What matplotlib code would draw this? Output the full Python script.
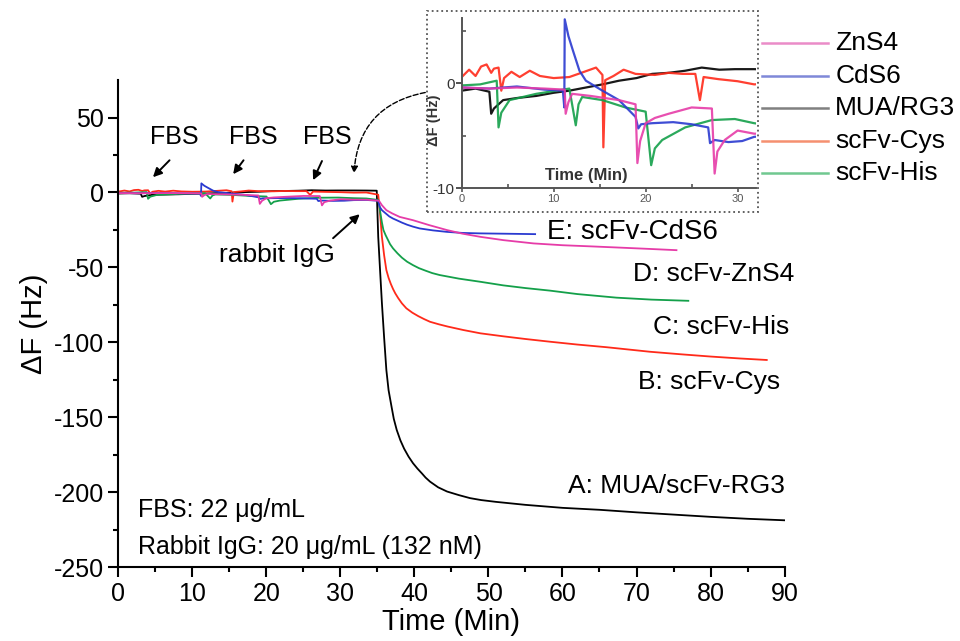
import numpy as np
import matplotlib
matplotlib.use("Agg")
import matplotlib.pyplot as plt
from matplotlib.lines import Line2D
from matplotlib.patches import Rectangle

plt.rcParams['font.family'] = ['Liberation Sans', 'DejaVu Sans']
plt.rcParams['axes.unicode_minus'] = False

## data: time (min), delta F (Hz)
t_mua = [0, 1.5, 3.0, 3.2, 3.5, 4.5, 6, 8.1, 10, 11.7, 13.5, 15.3, 17.1, 19, 20.7, 22.5,
         24.3, 26.1, 28, 29.7, 31.8, 33.5, 34.9, 35.1, 35.35, 35.6, 35.9, 36.2, 36.5, 36.9,
         37.2, 37.6, 38.1, 38.6, 39.2, 39.8, 40.4, 41, 41.5, 42.1, 43.2, 44.4, 46, 47.5, 49,
         51, 55, 60, 65, 70, 75, 80, 85, 90]
f_mua = [-0.7, -0.5, -0.8, -2.9, -2.4, -1.6, -1.4, -1.2, -0.9, -0.7, -0.4, -0.1, 0.25, 0.5,
         0.9, 1.0, 1.2, 1.5, 1.3, 1.35, 1.35, 1.3, 1.2, -29.6, -52, -74, -97, -118.5, -132,
         -143, -151, -158.5, -165.5, -171, -176.3, -180.7, -184.3, -187.5, -190.3, -193,
         -196.8, -199.6, -202, -204, -205.3, -206.5, -208.5, -210.5, -211.8, -213.5, -215,
         -216.5, -217.8, -218.8]

t_cys = [0, 0.8, 1.5, 2.1, 2.7, 3.2, 3.5, 4.0, 4.3, 4.6, 5.4, 6.3, 7.4, 8.5, 10, 11.7, 13,
         14.6, 15.3, 15.4, 15.6, 16.5, 17.6, 18.9, 21, 22.5, 24, 25.4, 25.9, 26.3, 27.9, 30,
         31.8, 33.5, 35.1, 35.35, 35.6, 35.9, 36.2, 36.5, 36.8, 37.1, 37.4, 37.8, 38.3, 38.9,
         39.7, 40.5, 41.3, 42.1, 43.3, 44.5, 46.6, 48.9, 52, 55, 58.3, 62, 66, 71.8, 76, 80,
         84, 87.6]
f_cys = [0.6, 1.3, 0.7, 1.6, 1.8, 1.0, 1.4, 1.5, -0.7, 0.5, 1.1, 0.6, 1.2, 0.7, 0.5, 0.6,
         1.0, 1.5, 0.8, -6.1, 0.3, 0.7, 1.3, 0.9, 0.8, 1.0, 0.9, 0.9, -1.6, 0.6, 0.4, 0.2,
         -0.1, 0.0, -1.5, -14, -29.6, -42, -51.8, -57, -61, -64.4, -67.3, -70.5, -74, -77.3,
         -80.2, -82.5, -84.5, -86.3, -88, -89.5, -91.8, -94, -96, -97.8, -99.6, -101.5,
         -103.3, -106.3, -108, -109.5, -110.8, -111.8]

t_his = [0, 2, 3.8, 4.0, 4.3, 5.2, 8.1, 11.7, 12.4, 12.7, 13.1, 15.3, 17.8, 20.0, 20.6,
         21.0, 21.8, 24.3, 27.2, 29.7, 31.8, 33.5, 35.1, 35.25, 35.4, 35.6, 35.8, 36.1, 36.4,
         36.7, 37.1, 37.7, 38.3, 39, 39.8, 40.6, 41.5, 42.4, 43.4, 46, 48.9, 52, 55, 58.3,
         62, 67.3, 72, 77.0]
f_his = [-0.2, -0.1, 0.25, -4.2, -2.8, -1.6, -1.0, -0.5, -4.0, -2.0, -1.3, -1.6, -2.3, -2.7,
         -7.8, -6.2, -5.4, -4.2, -3.5, -3.4, -3.8, -4.0, -5.0, -9, -14, -20, -25, -28.5,
         -31.5, -34.5, -37.3, -40.6, -43.5, -46.2, -48.5, -50.5, -52.2, -53.8, -55.1, -57.5,
         -59.6, -62, -63.8, -65.5, -67.8, -70.2, -71.5, -72.3]

t_cds = [0, 3, 6, 9, 11.0, 11.15, 11.2, 11.6, 12.1, 12.8, 13.5, 15.3, 17.1, 18.9, 19.2,
         19.5, 20.7, 23, 25, 26.8, 27.0, 27.5, 29, 30.5, 31.8, 33.5, 35.1, 35.3, 35.6, 36,
         36.6, 37.1, 37.6, 38.3, 39, 39.8, 40.7, 42.5, 44.4, 46.5, 48.9, 52, 56.3]
f_cds = [-0.4, -0.5, -0.3, -0.6, -0.7, -2.3, 6.1, 4.5, 3.1, 1.2, 0.25, -0.7, -1.6, -3.2,
         -4.3, -3.9, -3.8, -3.7, -3.9, -4.2, -5.7, -5.4, -5.6, -5.5, -5.1, -5.0, -5.5, -9.6,
         -11.8, -13.5, -16, -17.4, -18.5, -20.1, -21.5, -22.8, -24, -25.3, -26.3, -27, -27.3,
         -27.5, -27.8]

t_zns = [0, 3, 6, 9, 11.2, 11.3, 11.6, 12.0, 14, 17.1, 18.9, 19.1, 19.4, 20.0, 21, 22.5,
         25, 27.2, 27.5, 27.8, 28.6, 30, 31.8, 33.5, 35.2, 35.6, 36.2, 37, 38, 39.8, 42,
         44.4, 46.5, 48.9, 52, 56.1, 60, 64, 67.3, 71, 75.4]
f_zns = [-0.4, -0.5, -0.4, -0.5, -0.6, -2.9, -1.8, -1.0, -1.2, -1.6, -2.0, -7.6, -5.5, -3.8,
         -3.3, -2.9, -2.3, -2.4, -8.6, -6.5, -5.4, -4.5, -4.8, -4.8, -5.5, -8.5, -11.8, -14,
         -16.3, -18.5, -21.8, -25.1, -27.5, -29.6, -31.8, -34, -35.2, -36, -36.7, -37.5, -38.5]

curve_labels = ["A: MUA/scFv-RG3", "B: scFv-Cys", "C: scFv-His", "E: scFv-CdS6", "D: scFv-ZnS4"]
legend_names = ["ZnS4", "CdS6", "MUA/RG3", "scFv-Cys", "scFv-His"]

series = [(t_mua, f_mua, 'black'), (t_cys, f_cys, '#ff2a1a'), (t_his, f_his, '#14a04a'),
          (t_cds, f_cds, '#2a3ad0'), (t_zns, f_zns, '#e63ca8')]

fig = plt.figure(figsize=(9.6, 6.41), dpi=100)
ax = fig.add_axes([0.1234, 0.1154, 0.6938, 0.7596])

for t, f, c in series:
    ax.plot(t, f, color=c, lw=1.3)

ax.set_xlim(0, 90)
ax.set_ylim(-250, 75)
ax.set_xticks(np.arange(0, 91, 10))
ax.set_xticks(np.arange(5, 90, 10), minor=True)
ax.set_yticks(np.arange(-250, 51, 50))
ax.set_yticks(np.arange(-225, 75, 50), minor=True)
for s in ['top', 'right']:
    ax.spines[s].set_visible(False)
for s in ['left', 'bottom']:
    ax.spines[s].set_linewidth(1.5)
ax.tick_params(which='major', direction='out', length=7, width=1.5, labelsize=18)
ax.tick_params(which='minor', direction='out', length=3.5, width=1.5)
ax.set_xlabel("Time (Min)", fontsize=21, labelpad=2)
ax.set_ylabel("ΔF (Hz)", fontsize=21, labelpad=4)

## curve labels
ax.text(60.7, -195.8, curve_labels[0], fontsize=19, va='center')
ax.text(70.2, -126.5, curve_labels[1], fontsize=19, va='center')
ax.text(72.2, -89.8, curve_labels[2], fontsize=19, va='center')
ax.text(57.9, -26.5, curve_labels[3], fontsize=20, va='center')
ax.text(69.5, -54.5, curve_labels[4], fontsize=19, va='center')

## injections
arr = dict(arrowstyle='-|>', color='black', lw=1.4, mutation_scale=13, shrinkA=0, shrinkB=0)
for tx, ta, tb in [(7.6, (6.9, 21.5), (4.66, 10.2)),
                   (18.2, (16.9, 21.5), (15.5, 12.2)),
                   (28.2, (27.5, 21.0), (26.3, 8.2))]:
    ax.text(tx, 36.9, "FBS", fontsize=18, ha='center', va='center')
    ax.annotate("", xy=tb, xytext=ta, arrowprops=arr)
ax.text(21.4, -41.9, "rabbit IgG", fontsize=19, ha='center', va='center')
ax.annotate("", xy=(32.6, -14.5), xytext=(29.0, -30.5), arrowprops=arr)

ax.text(2.6, -211.8, "FBS: 22 μg/mL", fontsize=18, va='center')
ax.text(2.6, -236.5, "Rabbit IgG: 20 μg/mL (132 nM)", fontsize=18, va='center')

## dotted box around the inset and the pointer to it
fig.patches.append(Rectangle((0.4448, 0.6693), 0.3448, 0.3136, transform=fig.transFigure,
                             fill=False, ls=':', lw=1.3, ec='#555555'))
ax.annotate("", xy=(31.8, 11), xytext=(428, 641 - 92), textcoords='figure pixels',
            arrowprops=dict(arrowstyle='-|>', ls='--', color='black', lw=1.0,
                            mutation_scale=10, connectionstyle='arc3,rad=0.4'))

## inset: first 32 min
axi = fig.add_axes([0.481, 0.7063, 0.3065, 0.2652])
for t, f, c in series:
    axi.plot(t, f, color=c, lw=1.6, alpha=0.9)
axi.set_xlim(0, 32)
axi.set_ylim(-10, 6.2)
axi.set_xticks([0, 10, 20, 30])
axi.set_xticks([5, 15, 25], minor=True)
axi.set_yticks([-10, 0])
axi.set_yticks([-5, 5], minor=True)
for s in ['top', 'right']:
    axi.spines[s].set_visible(False)
for s in ['left', 'bottom']:
    axi.spines[s].set_linewidth(1.4)
    axi.spines[s].set_color('#555555')
axi.tick_params(axis='x', which='major', direction='out', length=3, width=1.2,
                labelsize=8, colors='#555555', pad=1)
axi.tick_params(axis='y', which='major', direction='out', length=4, width=1.2,
                labelsize=11, colors='#333333', pad=1)
axi.tick_params(which='minor', direction='in', length=3, width=1.2, colors='#555555')
axi.text(13.6, -8.75, "Time (Min)", fontsize=12, fontweight='bold', color='#333333',
         ha='center', va='center')
axi.set_ylabel("ΔF (Hz)", fontsize=10.5, fontweight='bold', color='#333333')
axi.yaxis.set_label_coords(-0.07, 0.40)

## inset legend, outside the dotted box
leg_colors = ['#ea8cc8', '#7f88d8', '#808080', '#f59070', '#70c890']
leg_y = [0.9325, 0.8814, 0.8310, 0.7805, 0.7306]
for name, c, y in zip(legend_names, leg_colors, leg_y):
    fig.add_artist(Line2D([0.794, 0.8625], [y, y], transform=fig.transFigure, color=c, lw=1.8))
    fig.text(0.870, y, name, fontsize=19, va='center')

fig.savefig("out.png", dpi=100)
